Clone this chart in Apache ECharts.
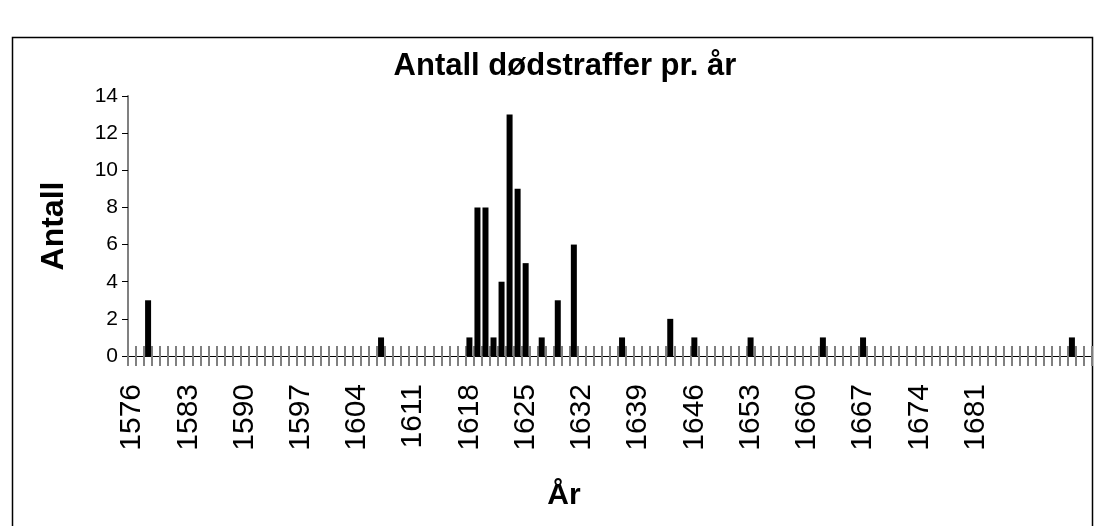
<!DOCTYPE html>
<html>
<head>
<meta charset="utf-8">
<title>Antall dødstraffer pr. år</title>
<script src="https://cdn.jsdelivr.net/npm/echarts@6/dist/echarts.min.js"></script>
<style>
  html, body { margin: 0; padding: 0; background: #fff; }
  #chart { width: 1095px; height: 526px; }
</style>
</head>
<body>
<div id="chart"></div>
<script>
// one category per year, 1576 .. 1695
const firstYear = 1576;
const yearCount = 120;
const years = [];
for (let i = 0; i < yearCount; i++) years.push(String(firstYear + i));

// years that had executions, and how many
const eventYears = ['1578', '1607', '1618', '1619', '1620', '1621', '1622', '1623', '1624', '1625',
  '1627', '1629', '1631', '1637', '1643', '1646', '1653', '1662', '1667', '1693'];
const eventCounts = [3, 1, 1, 8, 8, 1, 4, 13, 9, 5,
  1, 3, 6, 1, 2, 1, 1, 1, 1, 1];

// labels shown on the x axis
const tickLabels = ['1576', '1583', '1590', '1597', '1604', '1611', '1618', '1625',
  '1632', '1639', '1646', '1653', '1660', '1667', '1674', '1681'];

const font = '"Liberation Sans", Arial, sans-serif';

const chart = echarts.init(document.getElementById('chart'), null, { renderer: 'canvas' });

const option = {
  animation: false,
  backgroundColor: '#fff',
  title: [
    {
      text: 'Antall dødstraffer pr. år',
      left: 560,
      top: 46,
      textAlign: 'center',
      textStyle: { fontFamily: font, fontSize: 31, fontWeight: 'bold', color: '#000' },
    },
    {
      text: 'År',
      left: 559,
      top: 476,
      textAlign: 'center',
      textStyle: { fontFamily: font, fontSize: 30, fontWeight: 'bold', color: '#000' },
    },
  ],
  graphic: [
    {
      type: 'rect',
      shape: { x: 12.5, y: 37.5, width: 1080, height: 500 },
      style: { fill: null, stroke: '#000', lineWidth: 1.5 },
      silent: true,
    },
  ],
  grid: [
    { left: 128, right: 3, top: 96, bottom: 170 },
    { left: 128, right: 3, top: 96, bottom: 170 },
  ],
  xAxis: [
    {
      type: 'category',
      gridIndex: 0,
      data: years,
      boundaryGap: true,
      axisLine: { lineStyle: { color: '#000', width: 1 } },
      axisTick: {
        show: true,
        interval: 0,
        length: 10,
        lineStyle: { color: '#808080', width: 2 },
      },
      axisLabel: {
        interval: 0,
        rotate: 90,
        margin: 28,
        fontFamily: font,
        fontSize: 30,
        color: '#000',
        formatter: (v) => (tickLabels.includes(v) ? v : ''),
      },
      splitLine: { show: false },
    },
    {
      // second copy of the axis, only for the tick halves above the line
      type: 'category',
      gridIndex: 1,
      data: years,
      boundaryGap: true,
      axisLine: { show: false },
      axisTick: {
        show: true,
        inside: true,
        interval: 0,
        length: 10,
        lineStyle: { color: '#808080', width: 2 },
      },
      axisLabel: { show: false },
      splitLine: { show: false },
    },
  ],
  yAxis: [
    {
      type: 'value',
      gridIndex: 0,
      min: 0,
      max: 14,
      interval: 2,
      name: 'Antall',
      nameLocation: 'middle',
      nameGap: 58,
      nameTextStyle: { fontFamily: font, fontSize: 32, fontWeight: 'bold', color: '#000' },
      axisLine: { show: true, lineStyle: { color: '#808080', width: 2 } },
      axisTick: { show: true, length: 6, lineStyle: { color: '#000', width: 1 } },
      axisLabel: { margin: 10, fontFamily: font, fontSize: 21, color: '#000' },
      splitLine: { show: false },
    },
    {
      type: 'value',
      gridIndex: 1,
      min: 0,
      max: 14,
      show: false,
    },
  ],
  series: [
    {
      type: 'bar',
      xAxisIndex: 0,
      yAxisIndex: 0,
      barWidth: 6,
      itemStyle: { color: '#000' },
      emphasis: { disabled: true },
      data: eventYears.map((y, i) => [y, eventCounts[i]]),
    },
  ],
};

chart.setOption(option);
</script>
</body>
</html>
